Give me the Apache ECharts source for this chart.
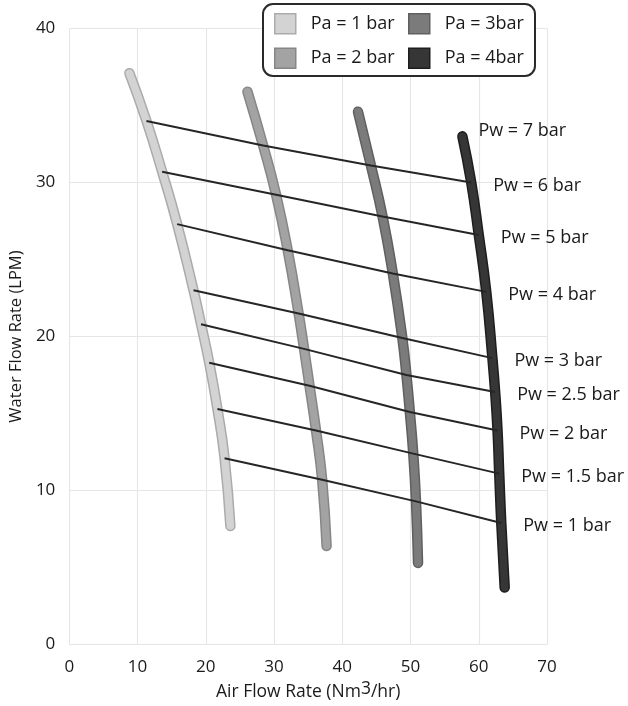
<!DOCTYPE html>
<html>
<head>
<meta charset="utf-8">
<script src="https://cdn.jsdelivr.net/npm/echarts@6/dist/echarts.min.js"></script>
<style>
html,body{margin:0;padding:0;background:#fff;}
#chart{width:628px;height:706px;}
</style>
</head>
<body>
<div id="chart"></div>
<script>
// ---- data ----
// Each curve: index 0 = top end (Pw = 7 bar), 1..8 = Pw 6,5,4,3,2.5,2,1.5,1 crossings, 9 = bottom end
const paNames = ['Pa = 1 bar', 'Pa = 2 bar', 'Pa = 3bar', 'Pa = 4bar'];
const pa1 = [[8.8,37.1],[11.3,34.0],[13.6,30.7],[15.8,27.3],[18.2,23.0],[19.3,20.8],[20.5,18.3],[21.7,15.3],[22.75,12.1],[23.6,7.7]];
const pa2 = [[26.1,35.9],[28.4,32.4],[30.3,29.2],[32.0,25.6],[33.6,21.5],[34.4,19.2],[35.2,16.8],[36.15,13.9],[37.05,10.7],[37.7,6.4]];
const pa3 = [[42.3,34.6],[44.2,31.1],[45.9,27.8],[47.4,24.1],[48.8,19.9],[49.4,17.5],[49.9,15.1],[50.4,12.4],[50.8,9.3],[51.1,5.3]];
const pa4 = [[57.6,33.0],[58.9,30.0],[60.0,26.6],[61.1,22.9],[62.0,18.6],[62.4,16.4],[62.75,13.9],[63.0,11.1],[63.3,7.9],[63.8,3.7]];
const pwLabels = ['Pw = 7 bar','Pw = 6 bar','Pw = 5 bar','Pw = 4 bar','Pw = 3 bar','Pw = 2.5 bar','Pw = 2 bar','Pw = 1.5 bar','Pw = 1 bar'];
const xTicks = [0, 10, 20, 30, 40, 50, 60, 70];
const yTicks = [0, 10, 20, 30, 40];

// ---- styles ----
const FONT = '"Open Sans", "DejaVu Sans", sans-serif';
const TXT = '#1a1a1a';
const curves = [pa1, pa2, pa3, pa4];
const fillColors = ['#d3d3d3', '#a3a3a3', '#7b7b7b', '#363636'];
const edgeColors = ['#ababab', '#868686', '#606060', '#1e1e1e'];

const series = [];
curves.forEach((c, k) => {
  series.push({
    name: 'edge' + k, type: 'line', data: c, smooth: 0.5, showSymbol: false, silent: true,
    lineStyle: { color: edgeColors[k], width: 10.5, cap: 'round', join: 'round' },
    z: 2
  });
  series.push({
    name: paNames[k], type: 'line', data: c, smooth: 0.5, showSymbol: false,
    itemStyle: { color: fillColors[k], borderColor: edgeColors[k], borderWidth: 1 },
    lineStyle: { color: fillColors[k], width: 7.5, cap: 'round', join: 'round' },
    z: 3
  });
});
// Pw connecting lines (Pw = 6 .. 1)
for (let i = 1; i <= 8; i++) {
  series.push({
    name: pwLabels[i], type: 'line', smooth: false, showSymbol: false, silent: true,
    data: curves.map(c => c[i]),
    lineStyle: { color: '#262626', width: 2 },
    z: 5
  });
}
// Pw labels next to the Pa = 4 bar curve
series.push({
  name: 'pwlabels', type: 'scatter', symbolSize: 0, silent: true, z: 6,
  itemStyle: { opacity: 1 },
  data: pwLabels.map((t, i) => ({
    value: pa4[i],
    label: {
      show: true, formatter: t, position: 'right',
      distance: i === 0 ? 16 : 22,
      offset: i === 0 ? [0, -5] : [0, 3],
      fontSize: 18, fontFamily: FONT, color: TXT
    }
  }))
});

const chart = echarts.init(document.getElementById('chart'));
chart.setOption({
  backgroundColor: '#ffffff',
  animation: false,
  grid: { left: 67.5, right: 81, top: 28.5, bottom: 57, containLabel: false },
  xAxis: {
    type: 'value', min: xTicks[0], max: xTicks[xTicks.length - 1], interval: 10,
    name: 'Air Flow Rate (Nm{s|3}/hr)', nameLocation: 'middle', nameGap: 34,
    nameTextStyle: {
      fontSize: 17.5, fontFamily: FONT, color: TXT,
      rich: { s: { fontSize: 17.5, fontFamily: FONT, color: TXT, padding: [0, 0, 5, 0] } }
    },
    axisLine: { show: false }, axisTick: { show: false },
    axisLabel: { fontSize: 17, fontFamily: FONT, color: TXT, margin: 14 },
    splitLine: { show: true, lineStyle: { color: '#e6e6e6', width: 1.2 } }
  },
  yAxis: {
    type: 'value', min: yTicks[0], max: yTicks[yTicks.length - 1], interval: 10,
    name: 'Water Flow Rate (LPM)', nameLocation: 'middle', nameGap: 42,
    nameTextStyle: { fontSize: 16.5, fontFamily: FONT, color: TXT },
    axisLine: { show: false }, axisTick: { show: false },
    axisLabel: { fontSize: 17, fontFamily: FONT, color: TXT, margin: 14 },
    splitLine: { show: true, lineStyle: { color: '#e6e6e6', width: 1.2 } }
  },
  graphic: [{
    type: 'rect', left: 262, top: 3, z: 10,
    shape: { width: 272, height: 72, r: 10 },
    style: { fill: '#fff', stroke: '#2a2a2a', lineWidth: 2 }
  }],
  legend: [
    {
      left: 274, top: 13, padding: 0, orient: 'vertical', itemGap: 13, itemWidth: 21, itemHeight: 20,
      icon: 'rect', z: 20,
      data: [
        { name: paNames[0], itemStyle: { color: fillColors[0], borderColor: edgeColors[0], borderWidth: 1.5 } },
        { name: paNames[1], itemStyle: { color: fillColors[1], borderColor: edgeColors[1], borderWidth: 1.5 } }
      ],
      textStyle: { fontSize: 18, fontFamily: FONT, color: TXT, padding: [0, 0, 0, 10] },
      selectedMode: false
    },
    {
      left: 408, top: 13, padding: 0, orient: 'vertical', itemGap: 13, itemWidth: 21, itemHeight: 20,
      icon: 'rect', z: 20,
      data: [
        { name: paNames[2], itemStyle: { color: fillColors[2], borderColor: edgeColors[2], borderWidth: 1.5 } },
        { name: paNames[3], itemStyle: { color: fillColors[3], borderColor: edgeColors[3], borderWidth: 1.5 } }
      ],
      textStyle: { fontSize: 18, fontFamily: FONT, color: TXT, padding: [0, 0, 0, 10] },
      selectedMode: false
    }
  ],
  series: series
});
</script>
</body>
</html>
